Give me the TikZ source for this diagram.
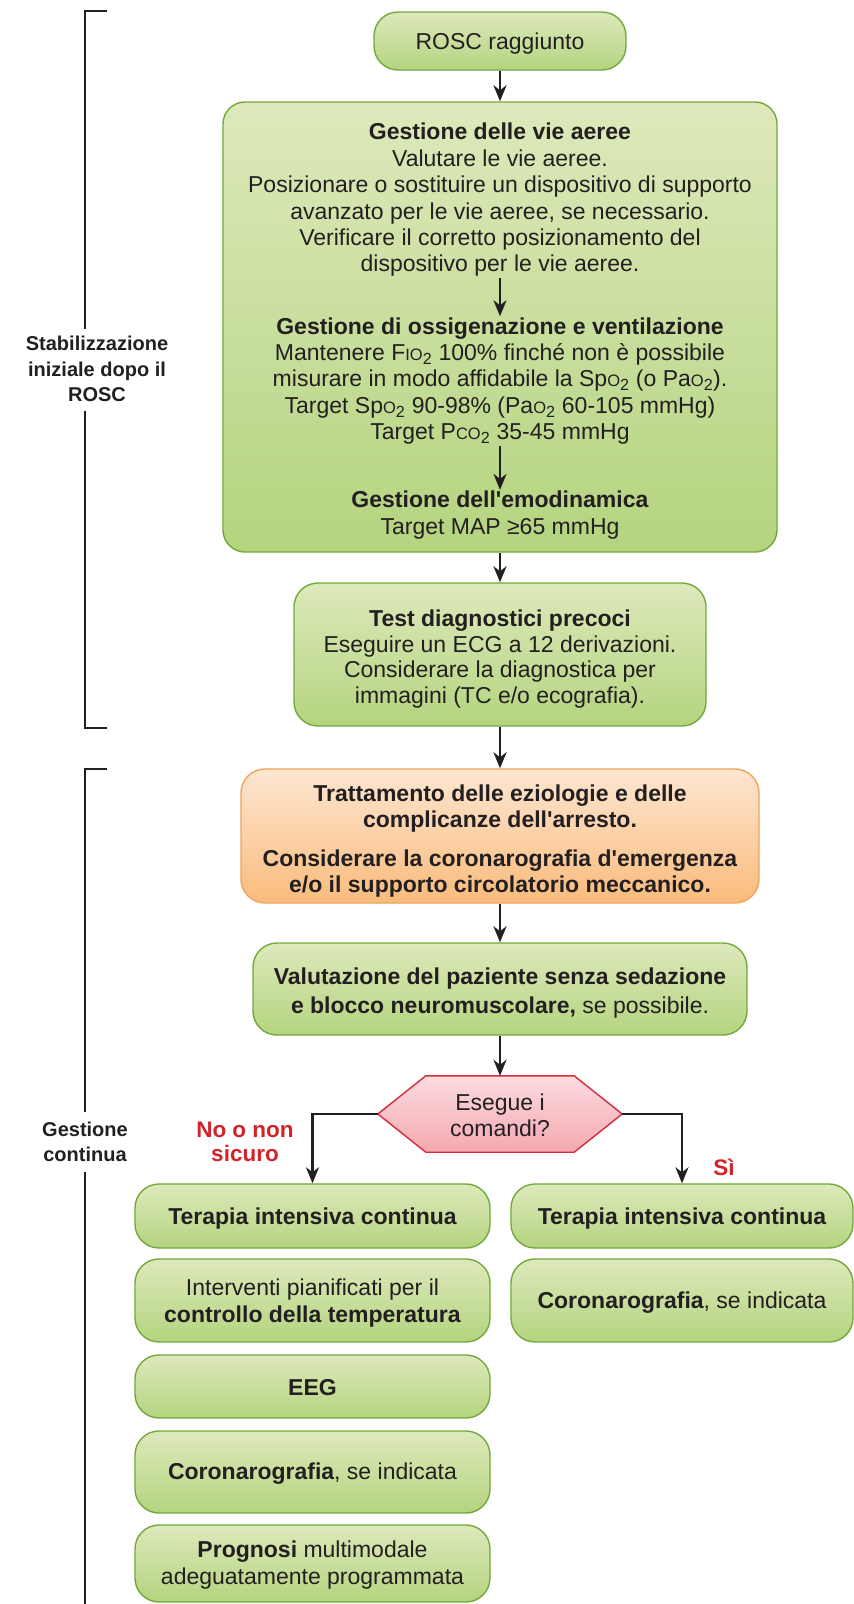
\documentclass[tikz,border=0pt]{standalone}
\usepackage{fontspec}
\setmainfont{Liberation Sans}
\usetikzlibrary{arrows.meta,calc}
\definecolor{gtop}{HTML}{DDE9BB}
\definecolor{gbot}{HTML}{B4D47F}
\definecolor{gline}{HTML}{74A83D}
\definecolor{otop}{HTML}{FDE6D1}
\definecolor{obot}{HTML}{F9BB7C}
\definecolor{oline}{HTML}{EDA45E}
\definecolor{ptop}{HTML}{FBDCDF}
\definecolor{pbot}{HTML}{F4A8B0}
\definecolor{pline}{HTML}{D62B3E}
\definecolor{txt}{HTML}{231F20}
\definecolor{redlab}{HTML}{D2232A}
\newcommand{\smc}[1]{{\fontsize{16.5}{16.5}\selectfont #1}}
\newcommand{\bodyfont}{\fontsize{23}{26.4}\selectfont}
\newcommand{\apo}{\textquotesingle}
\pgfdeclarelayer{bg}
\pgfsetlayers{bg,main}
\begin{document}
\begin{tikzpicture}[x=1pt,y=-1pt,
  box/.style={draw=gline, line width=1.4pt, rounded corners=24pt, top color=gtop, bottom color=gbot, inner sep=0pt},
  obox/.style={box, draw=oline, top color=otop, bottom color=obot},
  txtnode/.style={align=center, text=txt, font=\bodyfont, inner sep=1pt},
  arr/.style={draw=txt, line width=2.7pt, -{Stealth[length=16pt,width=13pt,inset=5pt]}},
  side/.style={align=center, text=txt, font=\fontsize{20}{25.5}\selectfont\bfseries},
  brk/.style={draw=txt, line width=2.7pt},
  redl/.style={align=center, text=redlab, font=\fontsize{22.5}{24}\selectfont\bfseries}
]
\begin{pgfonlayer}{bg}
\fill[white] (0,0) rectangle (854,1604);
\end{pgfonlayer}
\path[use as bounding box] (0,0) rectangle (854,1604);

% brackets and side labels
\node[side] (lab1) at (97,369) {Stabilizzazione\\iniziale dopo il\\ROSC};
\node[side] (lab2) at (85,1142) {Gestione\\continua};
\draw[brk] (107,11) -- (85,11) -- (85,329);
\draw[brk] (85,411) -- (85,728) -- (107,728);
\draw[brk] (107,769) -- (85,769) -- (85,1112);
\draw[brk] (85,1172) -- (85,1610);

% main column
\node[box, minimum width=252pt, minimum height=58pt] (rosc) at (500,41) {};
\node[txtnode] (roscT) at (500,44) {ROSC raggiunto};
\node[box, rounded corners=22pt, minimum width=554pt, minimum height=450pt] (big) at (500,327) {};
\node[txtnode] (b1) at (500,200) {\textbf{Gestione delle vie aeree}\\Valutare le vie aeree.\\Posizionare o sostituire un dispositivo di supporto\\avanzato per le vie aeree, se necessario.\\Verificare il corretto posizionamento del\\dispositivo per le vie aeree.};
\node[txtnode] (b2) at (500,381) {\textbf{Gestione di ossigenazione e ventilazione}\\Mantenere F\smc{IO}\textsubscript{2} 100\% finché non è possibile\\misurare in modo affidabile la Sp\smc{O}\textsubscript{2} (o Pa\smc{O}\textsubscript{2}).\\Target Sp\smc{O}\textsubscript{2} 90-98\% (Pa\smc{O}\textsubscript{2} 60-105 mmHg)\\Target P\smc{CO}\textsubscript{2} 35-45 mmHg};
\node[txtnode] (b3) at (500,515) {\textbf{Gestione dell\apo emodinamica}\\Target MAP ≥65 mmHg};

\node[box, minimum width=412pt, minimum height=143pt] (test) at (500,654.5) {};
\node[txtnode, font=\fontsize{23}{25.9}\selectfont] (testT) at (500,659) {\textbf{Test diagnostici precoci}\\Eseguire un ECG a 12 derivazioni.\\Considerare la diagnostica per\\immagini (TC e/o ecografia).};
\node[obox, minimum width=518pt, minimum height=134pt] (orange) at (500,836) {};
\node[txtnode, font=\bodyfont\bfseries] (orangeT) at (500,841) {Trattamento delle eziologie e delle\\complicanze dell\apo arresto.\\[12pt]Considerare la coronarografia d\apo emergenza\\e/o il supporto circolatorio meccanico.};
\node[box, minimum width=494pt, minimum height=92pt] (val) at (500,989) {};
\node[txtnode, font=\fontsize{23}{28.4}\selectfont] (valT) at (500,993) {\textbf{Valutazione del paziente senza sedazione}\\\textbf{e blocco neuromuscolare,} se possibile.};

\node[txtnode, minimum width=244pt, minimum height=76pt, inner sep=0pt] (hex) at (500,1114) {};
\node[txtnode] (hexT) at (500,1115) {Esegue i\\comandi?};
\begin{pgfonlayer}{bg}
\path[top color=ptop, bottom color=pbot, draw=pline, line width=1.4pt, line join=miter]
  (hex.west) -- ($(hex.north west)+(48,0)$) -- ($(hex.north east)+(-48,0)$) -- (hex.east)
  -- ($(hex.south east)+(-48,0)$) -- ($(hex.south west)+(48,0)$) -- cycle;
\end{pgfonlayer}

% left column
\node[box, minimum width=355pt, minimum height=64pt] (l1) at (312.5,1216) {};
\node[txtnode, font=\bodyfont\bfseries] (l1T) at (312.5,1219) {Terapia intensiva continua};
\node[box, minimum width=355pt, minimum height=83pt] (l2) at (312.5,1300.5) {};
\node[txtnode] (l2T) at (312.5,1303) {Interventi pianificati per il\\\textbf{controllo della temperatura}};
\node[box, minimum width=355pt, minimum height=63pt] (l3) at (312.5,1386.5) {};
\node[txtnode, font=\bodyfont\bfseries] (l3T) at (312.5,1388) {EEG};
\node[box, minimum width=355pt, minimum height=82pt] (l4) at (312.5,1472) {};
\node[txtnode] (l4T) at (312.5,1474) {\textbf{Coronarografia}, se indicata};
\node[box, minimum width=355pt, minimum height=77pt] (l5) at (312.5,1563.5) {};
\node[txtnode] (l5T) at (312.5,1565) {\textbf{Prognosi} multimodale\\adeguatamente programmata};

% right column
\node[box, minimum width=342pt, minimum height=64pt] (r1) at (682,1216) {};
\node[txtnode, font=\bodyfont\bfseries] (r1T) at (682,1219) {Terapia intensiva continua};
\node[box, minimum width=342pt, minimum height=83pt] (r2) at (682,1300.5) {};
\node[txtnode] (r2T) at (682,1303) {\textbf{Coronarografia}, se indicata};

% branch labels
\node[redl] (no) at (245,1142) {No o non\\sicuro};
\node[redl] (si) at (724,1167) {Sì};

% connectors
\draw[arr] (rosc) -- (big);
\draw[arr] (b1) -- (b2);
\draw[arr] (b2) -- (b3);
\draw[arr] (big) -- (test);
\draw[arr] (test) -- (orange);
\draw[arr] (orange) -- (val);
\draw[arr] (val) -- (hex);
\draw[arr] (hex.west) -| (l1.north);
\draw[arr] (hex.east) -| (r1.north);
\end{tikzpicture}
\end{document}
